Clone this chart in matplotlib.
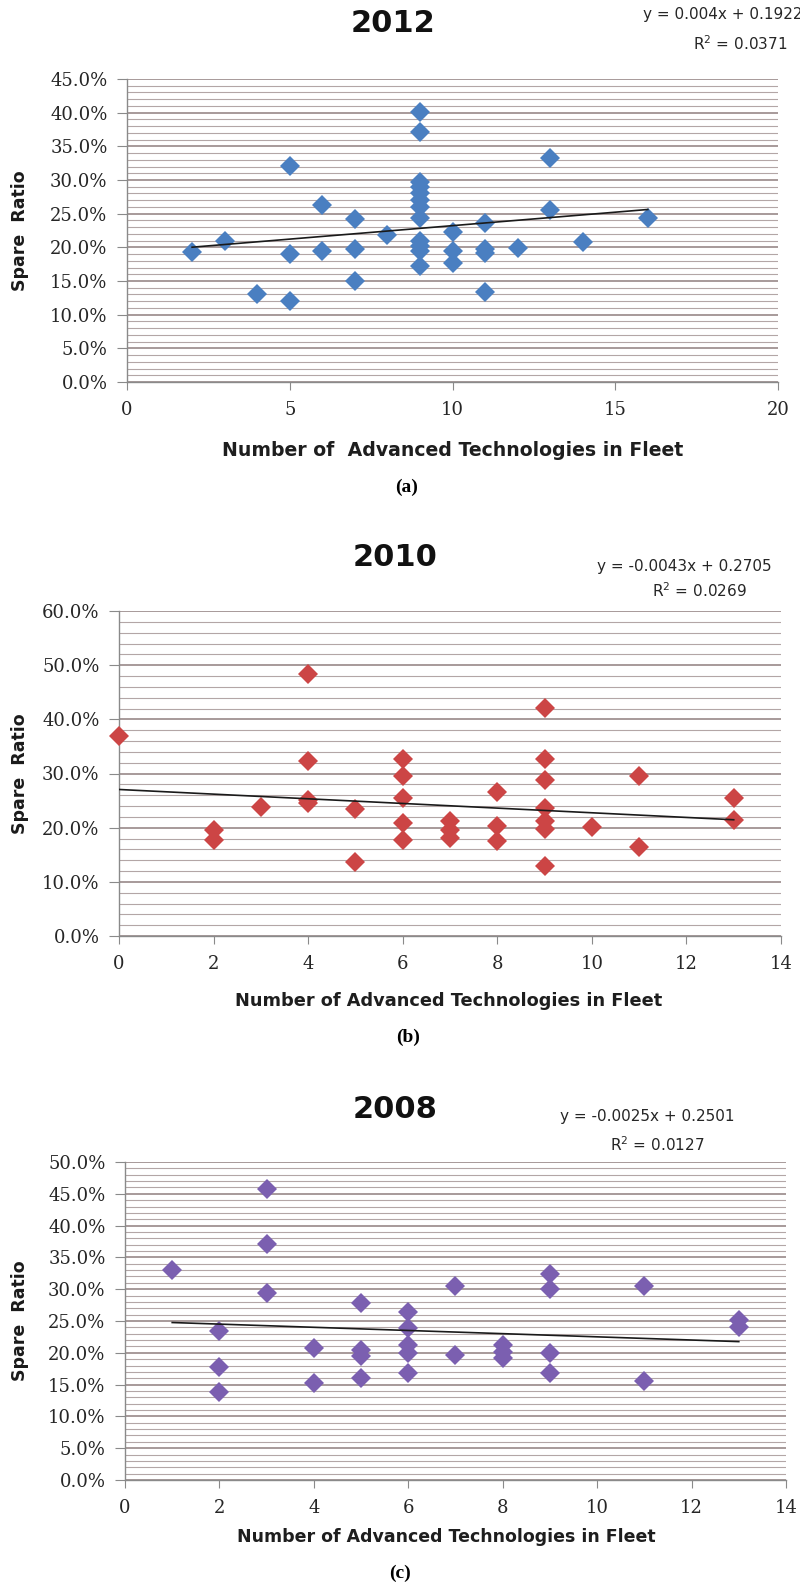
"""
Spare ratio vs number of advanced technologies in fleet (2012, 2010, 2008)
"""
import matplotlib
matplotlib.use('Agg')
import matplotlib.pyplot as plt
from matplotlib.ticker import MultipleLocator, PercentFormatter

# --- data ---
x_2012 = [2, 3, 4, 5, 5, 5, 6, 6, 7, 7, 7, 8,
          9, 9, 9, 9, 9, 9, 9, 9, 9, 9, 9, 9,
          10, 10, 10, 11, 11, 11, 11, 12, 13, 13, 14, 16]
y_2012 = [19.3, 21.0, 13.0, 32.1, 19.0, 12.0, 26.3, 19.5, 24.2, 19.8, 15.0, 21.8,
          40.1, 37.2, 29.7, 28.9, 28.0, 27.0, 26.0, 24.3, 21.0, 20.2, 19.4, 17.3,
          22.3, 19.4, 17.7, 23.6, 19.8, 19.2, 13.4, 19.9, 33.3, 25.5, 20.8, 24.3]

x_2010 = [0, 2, 2, 3, 4, 4, 4, 4, 5, 5,
          6, 6, 6, 6, 6, 7, 7, 7, 8, 8, 8,
          9, 9, 9, 9, 9, 9, 9, 10, 11, 11, 13, 13]
y_2010 = [36.9, 19.5, 17.8, 23.9, 48.3, 32.4, 25.2, 24.6, 23.4, 13.6,
          32.7, 29.5, 25.4, 20.8, 17.8, 21.2, 19.6, 18.1, 26.6, 20.3, 17.6,
          42.1, 32.7, 28.8, 23.6, 21.2, 19.8, 13.0, 20.2, 29.6, 16.5, 25.4, 21.4]

x_2008 = [1, 2, 2, 2, 3, 3, 3, 4, 4, 5, 5, 5, 5,
          6, 6, 6, 6, 6, 7, 7, 8, 8, 8, 9, 9, 9, 9, 11, 11, 13, 13]
y_2008 = [33.0, 23.4, 17.8, 13.8, 45.7, 37.1, 29.4, 20.7, 15.2, 27.8, 20.4, 19.5, 16.0,
          26.4, 23.9, 21.3, 19.9, 16.8, 30.5, 19.7, 21.2, 20.2, 19.2,
          32.4, 30.1, 19.9, 16.9, 30.5, 15.6, 25.2, 24.0]

# trendline coefficients as printed on the chart
fit_2012 = (0.004, 0.1922, 0.0371)
fit_2010 = (-0.0043, 0.2705, 0.0269)
fit_2008 = (-0.0025, 0.2501, 0.0127)

W, H = 800, 1593
fig = plt.figure(figsize=(W / 100, H / 100), dpi=100)
fig.patch.set_facecolor('white')


def px_rect(l, t, r, b):
    return [l / W, 1 - b / H, (r - l) / W, (b - t) / H]


def fig_text(x, y, s, **kw):
    fig.text(x / W, 1 - y / H, s, va='center', **kw)


def panel(rect, xs, ys, fit, color, xmax, xstep, ymax, ystep, yminor,
          title, title_xy, eq_xy, r2_xy, xlab, xlab_xy, xlab_size, cap, cap_xy):
    ax = fig.add_axes(px_rect(*rect))
    ax.plot(xs, [v / 100 for v in ys], 'D', color=color, ms=10.5, mew=0,
            clip_on=False, zorder=3)

    slope, icpt, r2 = fit
    xl = [min(xs), max(xs)]
    ax.plot(xl, [slope * v + icpt for v in xl], color='#1a1a1a', lw=1.2, zorder=4)

    ax.set_xlim(0, xmax)
    ax.set_ylim(0, ymax)
    ax.xaxis.set_major_locator(MultipleLocator(xstep))
    ax.yaxis.set_major_locator(MultipleLocator(ystep))
    ax.yaxis.set_minor_locator(MultipleLocator(yminor))
    ax.yaxis.set_major_formatter(PercentFormatter(1.0, decimals=1))

    ax.set_axisbelow(True)
    ax.grid(axis='y', which='major', color='#8f7f7f', lw=1.1)
    ax.grid(axis='y', which='minor', color='#b3a6a6', lw=0.8)

    for side in ('top', 'right'):
        ax.spines[side].set_visible(False)
    for side in ('left', 'bottom'):
        ax.spines[side].set_color('#8a8a8a')
        ax.spines[side].set_linewidth(1.0)

    ax.tick_params(axis='y', which='major', length=7, color='#8a8a8a', pad=7,
                   labelsize=13, labelcolor='#262626')
    ax.tick_params(axis='x', which='major', length=6, color='#8a8a8a', pad=8,
                   labelsize=13, labelcolor='#262626')
    ax.tick_params(which='minor', length=0)
    for lab in ax.get_xticklabels() + ax.get_yticklabels():
        lab.set_family('DejaVu Serif')

    # labels
    fig_text(title_xy[0], title_xy[1], title, ha='center', fontsize=22,
             fontweight='bold', color='#111111')
    fig_text(eq_xy[0], eq_xy[1],
             'y = %sx + %s' % (f'{slope:g}', f'{icpt:g}'),
             ha='left', fontsize=11, color='#262626')
    fig_text(r2_xy[0], r2_xy[1], 'R$^2$ = %.4f' % r2, ha='center',
             fontsize=11, color='#262626')
    fig_text(xlab_xy[0], xlab_xy[1], xlab, ha='center', fontsize=xlab_size,
             fontweight='bold', color='#1e1e1e')
    fig_text(20, (rect[1] + rect[3]) / 2, 'Spare  Ratio', ha='center',
             rotation=90, fontsize=12.5, fontweight='bold', color='#1a1a1a')
    fig_text(cap_xy[0], cap_xy[1], cap, ha='center', fontsize=14,
             fontweight='bold', family='Liberation Serif')
    return ax


panel((127, 79, 778, 382), x_2012, y_2012, fit_2012, '#4a7fc1',
      20, 5, 0.45, 0.05, 0.01,
      '2012', (393, 23), (643, 15), (740, 44),
      'Number of  Advanced Technologies in Fleet', (453, 450), 13.6,
      '(a)', (407, 487))

panel((119, 611, 781, 936), x_2010, y_2010, fit_2010, '#cc4545',
      14, 2, 0.60, 0.10, 0.02,
      '2010', (395, 558), (597, 566), (699, 591),
      'Number of Advanced Technologies in Fleet', (449, 1001), 12.8,
      '(b)', (408, 1037))

panel((125, 1162, 786, 1480), x_2008, y_2008, fit_2008, '#7b5fb0',
      14, 2, 0.50, 0.05, 0.01,
      '2008', (395, 1110), (560, 1117), (657, 1145),
      'Number of Advanced Technologies in Fleet', (446, 1537), 12.5,
      '(c)', (400, 1573))

fig.savefig('out.png', dpi=100)
